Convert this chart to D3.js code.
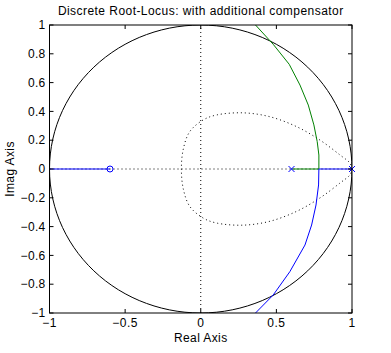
<!DOCTYPE html>
<html>
<head>
<meta charset="utf-8">
<script src="https://cdn.jsdelivr.net/npm/d3@7"></script>
<style>
  body { margin: 0; background: #fff; }
  text { font-family: "Liberation Sans", Arial, sans-serif; fill: #000; }
</style>
</head>
<body>
<div id="chart"></div>
<script>
// tick values
const xTicks = [-1, -0.5, 0, 0.5, 1];
const yTicks = [-1, -0.8, -0.6, -0.4, -0.2, 0, 0.2, 0.4, 0.6, 0.8, 1];

// open-loop poles and zeros
const poles = [0.6, 1.0];
const zeros = [-0.6];

// locus branches [re, im]
const greenReal = [[0.6, 0], [0.781, 0]];
const blueReal = [[0.781, 0], [1.0, 0]];
const blueLeft = [[-1.0, 0], [-0.6, 0]];
const greenBranch = [[0.781, 0], [0.781, 0.097], [0.770, 0.19], [0.748, 0.306], [0.711, 0.444],
  [0.656, 0.583], [0.585, 0.727], [0.479, 0.866], [0.362, 1.0]];
const blueBranch = [[0.781, 0], [0.779, -0.111], [0.762, -0.25], [0.733, -0.389], [0.689, -0.528],
  [0.589, -0.713], [0.479, -0.875], [0.362, -1.0]];

// dotted grid curve (upper half, mirrored below)
const gridCurve = [[1, 0], [0.987, 0.04], [0.921, 0.097], [0.788, 0.201], [0.634, 0.294], [0.457, 0.363],
  [0.28, 0.39], [0.104, 0.375], [0.015, 0.34], [-0.073, 0.259], [-0.115, 0.14], [-0.128, 0]];

var margin = {top: 25, right: 39, bottom: 40, left: 49.5},
  width = 391 - margin.left - margin.right,
  height = 353 - margin.top - margin.bottom;

var x = d3.scaleLinear().domain([-1, 1]).range([0, width]);
var y = d3.scaleLinear().domain([-1, 1]).range([height, 0]);

var svg = d3.select("#chart").append("svg")
  .attr("width", 391)
  .attr("height", 353)
  .style("background", "#fff");

svg.append("defs").append("clipPath").attr("id", "clip")
  .append("rect").attr("width", width).attr("height", height);

var g = svg.append("g")
  .attr("transform", "translate(" + margin.left + "," + margin.top + ")");

var plot = g.append("g").attr("clip-path", "url(#clip)");

var line = d3.line()
  .x(function(d) { return x(d[0]); })
  .y(function(d) { return y(d[1]); });

// unit circle
var circ = d3.range(0, 361, 3).map(function(a) {
  var t = a * Math.PI / 180;
  return [Math.cos(t), Math.sin(t)];
});
plot.append("path").attr("d", line(circ))
  .attr("fill", "none").attr("stroke", "#000").attr("stroke-width", 1);

// dotted grid
function dot(sel) {
  return sel.attr("fill", "none").attr("stroke", "#000")
    .attr("stroke-width", 1).attr("stroke-dasharray", "1,3");
}

dot(plot.append("path").attr("d", line([[-1, 0], [1, 0]])));
dot(plot.append("path").attr("d", line([[0, -1], [0, 1]])));
var fullCurve = gridCurve.concat(gridCurve.slice(0, -1).reverse().map(function(p) { return [p[0], -p[1]]; }));
dot(plot.append("path").attr("d", line.curve(d3.curveCatmullRom)(fullCurve)));
line.curve(d3.curveLinear);

// locus branches
plot.append("path").attr("d", line(greenReal)).attr("fill", "none").attr("stroke", "#008000");
plot.append("path").attr("d", line(greenBranch)).attr("fill", "none").attr("stroke", "#008000");
plot.append("path").attr("d", line(blueReal)).attr("fill", "none").attr("stroke", "#0000ff");
plot.append("path").attr("d", line(blueBranch)).attr("fill", "none").attr("stroke", "#0000ff");
plot.append("path").attr("d", line(blueLeft)).attr("fill", "none").attr("stroke", "#0000ff");

// poles (x) and zeros (o)
g.selectAll(".pole").data(poles).enter().append("path")
  .attr("class", "pole")
  .attr("d", function(p) {
    var cx = x(p), cy = y(0), s = 3;
    return "M" + (cx - s) + "," + (cy - s) + "L" + (cx + s) + "," + (cy + s) +
      "M" + (cx - s) + "," + (cy + s) + "L" + (cx + s) + "," + (cy - s);
  })
  .attr("stroke", "#0000ff").attr("fill", "none");

g.selectAll(".zero").data(zeros).enter().append("circle")
  .attr("class", "zero")
  .attr("cx", function(z) { return x(z); })
  .attr("cy", y(0))
  .attr("r", 3)
  .attr("stroke", "#0000ff").attr("fill", "none");

// frame
g.append("rect").attr("width", width).attr("height", height)
  .attr("fill", "none").attr("stroke", "#000");

// ticks, inward on all sides
var tl = 4;
function fmt(t) { return t < 0 ? "\u2212" + Math.abs(t) : String(t); }
xTicks.forEach(function(t) {
  g.append("line").attr("x1", x(t)).attr("x2", x(t)).attr("y1", height).attr("y2", height - tl).attr("stroke", "#000");
  g.append("line").attr("x1", x(t)).attr("x2", x(t)).attr("y1", 0).attr("y2", tl).attr("stroke", "#000");
  g.append("text").attr("x", x(t)).attr("y", height + 14)
    .style("text-anchor", "middle").style("font-size", "12px").style("letter-spacing", "0.5px")
    .text(fmt(t));
});
yTicks.forEach(function(t) {
  g.append("line").attr("x1", 0).attr("x2", tl).attr("y1", y(t)).attr("y2", y(t)).attr("stroke", "#000");
  g.append("line").attr("x1", width).attr("x2", width - tl).attr("y1", y(t)).attr("y2", y(t)).attr("stroke", "#000");
  g.append("text").attr("x", -4).attr("y", y(t)).attr("dy", "0.35em")
    .style("text-anchor", "end").style("font-size", "12px").style("letter-spacing", "0.3px")
    .text(fmt(t));
});

// title and axis labels
g.append("text").attr("x", width / 2).attr("y", -10)
  .style("text-anchor", "middle").style("font-size", "12px").style("letter-spacing", "0.45px")
  .text("Discrete Root-Locus: with additional compensator");

g.append("text").attr("x", width / 2).attr("y", height + 29)
  .style("text-anchor", "middle").style("font-size", "12px").style("letter-spacing", "0.4px")
  .text("Real Axis");

g.append("text")
  .attr("transform", "rotate(-90)")
  .attr("x", -height / 2).attr("y", -36)
  .style("text-anchor", "middle").style("font-size", "12px").style("letter-spacing", "0.4px")
  .text("Imag Axis");
</script>
</body>
</html>
